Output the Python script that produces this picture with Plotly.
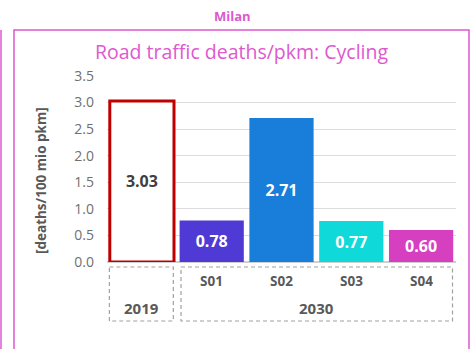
import plotly.graph_objects as go

# Road traffic deaths per passenger-km, cycling, Milan
categories = ["2019", "S01", "S02", "S03", "S04"]
values = [3.03, 0.78, 2.71, 0.77, 0.60]
bar_colors = ["#ffffff", "#503ad6", "#187ed9", "#10d9d9", "#d63fc0"]
outline_colors = ["#c00000", "#503ad6", "#187ed9", "#10d9d9", "#d63fc0"]
outline_widths = [3, 0, 0, 0, 0]
label_colors = ["#404040", "#ffffff", "#ffffff", "#ffffff", "#ffffff"]
scenario_labels = ["S01", "S02", "S03", "S04"]
group_labels = ["2019", "2030"]
y_ticks = [0.0, 0.5, 1.0, 1.5, 2.0, 2.5, 3.0, 3.5]
y_title = "[deaths/100 mio pkm]"

W, H = 470, 349
ML, MR, MT, MB = 107, 14, 76, 87
PW, PH = W - ML - MR, H - MT - MB

PINK = "#de58cf"
GRAY = "#595959"
FONT = "Open Sans"


def px_x(p):
    return (p - ML) / PW


def px_y(p):
    return (H - MB - p) / PH


x_pos = list(range(len(categories)))

fig = go.Figure(
    go.Bar(
        x=x_pos,
        y=values,
        marker=dict(
            color=bar_colors,
            line=dict(color=outline_colors, width=outline_widths),
        ),
        width=0.92,
        texttemplate="%{y:.2f}",
        textposition="inside",
        insidetextanchor="middle",
        textangle=0,
        constraintext="none",
        textfont=dict(family=FONT, size=16, color=label_colors, weight="bold"),
        hoverinfo="skip",
    )
)

BOX_LINE = dict(color="#a0a0a0", width=1.2, dash="4px,3px")
shapes = [
    # outer panel frame
    dict(type="line", xref="paper", yref="paper",
         x0=px_x(1), x1=px_x(1), y0=px_y(30), y1=px_y(360),
         line=dict(color=PINK, width=1.5)),
    dict(type="path", xref="paper", yref="paper",
         path=(f"M {px_x(14)} {px_y(360)} L {px_x(14)} {px_y(30)} "
               f"L {px_x(469)} {px_y(30)} L {px_x(469)} {px_y(360)}"),
         line=dict(color=PINK, width=1.5)),
    # dashed category group boxes
    dict(type="rect", xref="x", yref="paper",
         x0=-0.466, x1=0.45, y0=px_y(267), y1=px_y(321), line=BOX_LINE),
    dict(type="rect", xref="x", yref="paper",
         x0=0.56, x1=4.45, y0=px_y(267), y1=px_y(321), line=BOX_LINE),
]


def note(text, x, y, size, color, xref="paper", bold=False, angle=0):
    return dict(text=f"<b>{text}</b>" if bold else text, xref=xref, yref="paper",
                x=x, y=y, xanchor="center", yanchor="middle", showarrow=False,
                textangle=angle, font=dict(family=FONT, size=size, color=color))


annotations = [
    note("Milan", px_x(232), px_y(16), 13, PINK, bold=True),
    note("Road traffic deaths/pkm: Cycling", px_x(241), px_y(52), 19.5, PINK),
    note(y_title, px_x(41), px_y(181), 13.5, GRAY, bold=True, angle=-90),
]
for i, lab in enumerate(scenario_labels):
    annotations.append(note(lab, i + 1, px_y(281), 13.5, GRAY, xref="x", bold=True))
annotations.append(note(group_labels[0], 0, px_y(308), 15, GRAY, xref="x", bold=True))
annotations.append(note(group_labels[1], 2.5, px_y(308), 15, GRAY, xref="x", bold=True))

fig.update_layout(
    width=W, height=H,
    margin=dict(l=ML, r=MR, t=MT, b=MB),
    paper_bgcolor="white", plot_bgcolor="white",
    showlegend=False,
    bargap=0.08,
    shapes=shapes,
    annotations=annotations,
    xaxis=dict(range=[-0.5, 4.5], showticklabels=False, showgrid=False,
               zeroline=False, showline=False, fixedrange=True),
    yaxis=dict(range=[0, 3.5], tickvals=y_ticks, tickformat=".1f",
               showgrid=True, gridcolor="#dcdcdc", gridwidth=1,
               zeroline=True, zerolinecolor="#d0d0d0", zerolinewidth=1.5,
               ticks="", ticklen=0, ticklabelstandoff=12,
               tickfont=dict(family=FONT, size=14, color="#707070"),
               fixedrange=True),
    font=dict(family=FONT),
)

fig.write_html("out.html")
